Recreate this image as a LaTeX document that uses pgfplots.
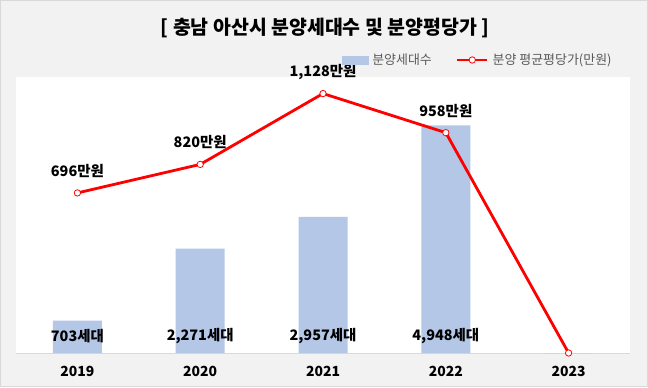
\documentclass[border=0pt]{standalone}
\usepackage{fontspec}
\setmainfont{Noto Sans CJK KR}
\usepackage{pgfplots}
\pgfplotsset{compat=1.18}
\definecolor{barblue}{HTML}{B4C7E7}
\definecolor{bg}{HTML}{F2F2F2}
\definecolor{bord}{HTML}{D9D9D9}
\definecolor{legtxt}{HTML}{595959}
\definecolor{linered}{HTML}{FF0000}
\pgfplotsset{mylineleg/.style={legend image code/.code={\draw[##1,mark=none] (0bp,0bp) -- (30bp,0bp); \draw[##1, only marks] plot coordinates {(15bp,0bp)};}}}
\begin{document}
\begin{tikzpicture}[x=1bp,y=1bp]
\fill[bg] (0,0) rectangle (648,387);
\draw[bord, line width=1bp] (0.5,0.5) rectangle (647.5,386.5);
\node[font=\bfseries\fontsize{19.5}{23}\selectfont] at (325,359.5) {[ 충남 아산시 분양세대수 및 분양평당가 ]};
\begin{axis}[at={(16bp,34bp)}, anchor=south west, scale only axis,
  width=614bp, height=276bp, xmin=-0.5, xmax=4.5, ymin=0, ymax=6000,
  /pgf/number format/assume math mode=true,
  axis background/.style={fill=white},
  hide y axis, axis x line=bottom, x axis line style={bord, line width=1bp, -},
  xtick={0,1,2,3,4}, xticklabels={2019,2020,2021,2022,2023},
  major tick length=0pt,
  xticklabel style={font=\bfseries\fontsize{14}{16}\selectfont, yshift=-10bp}]
\addplot[ybar, bar width=49bp, fill=barblue, draw=none] coordinates {(0,703)(1,2271)(2,2957)(3,4948)(4,0)};
\addplot[draw=none, mark=none, point meta=explicit,
  nodes near coords={\pgfmathprintnumber[1000 sep={,}]{\pgfplotspointmeta}세대},
  every node near coord/.style={anchor=center, yshift=17bp, font=\bfseries\fontsize{14.5}{17}\selectfont, text=black}]
  coordinates {(0,0)[703] (1,0)[2271] (2,0)[2957] (3,0)[4948]};
\end{axis}
\begin{axis}[at={(16bp,34bp)}, anchor=south west, scale only axis,
  width=614bp, height=276bp, xmin=-0.5, xmax=4.5, ymin=0, ymax=1200,
  /pgf/number format/assume math mode=true,
  hide axis, clip=false,
  legend columns=2,
  legend style={draw=none, fill=none, at={(0.752,1.0616)}, anchor=center,
    font=\fontsize{13}{15}\selectfont, text=legtxt, inner sep=0pt,
    /tikz/every odd column/.append style={column sep=2bp},
    /tikz/every even column/.append style={column sep=22bp}}]
\addlegendimage{legend image code/.code={\fill[barblue] (0bp,-4bp) rectangle (26bp,4bp);}}
\addlegendentry{분양세대수}
\addplot[linered, line width=2.8bp, mark=*, mark size=3.2bp,
  mark options={fill=white, draw=linered, line width=0.8bp}, mylineleg]
  coordinates {(0,696)(1,820)(2,1128)(3,958)(4,0)};
\addlegendentry{분양 평균평당가(만원)}
\addplot[draw=none, mark=none, point meta=y, forget plot,
  nodes near coords={\pgfmathprintnumber[1000 sep={,}]{\pgfplotspointmeta}만원},
  every node near coord/.style={anchor=center, yshift=22bp, font=\bfseries\fontsize{14.5}{17}\selectfont, text=black}]
  coordinates {(0,696)(1,820)(2,1128)(3,958)};
\end{axis}
\end{tikzpicture}
\end{document}
